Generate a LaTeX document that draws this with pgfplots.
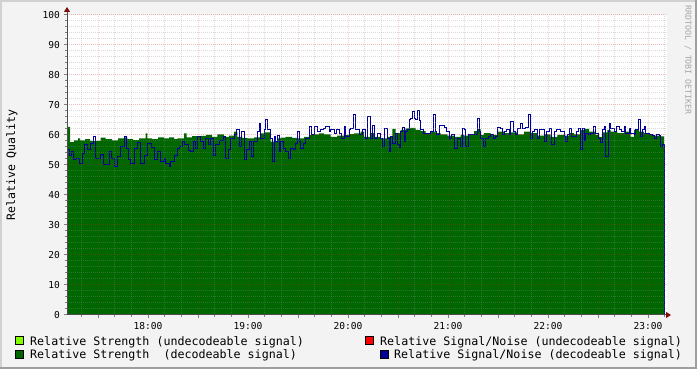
\documentclass[border=0pt]{standalone}
\usepackage{fontspec}
\setmainfont{DejaVu Sans Mono}
\usepackage{pgfplots}
\pgfplotsset{compat=1.18}
\usetikzlibrary{arrows.meta}
\definecolor{bgc}{HTML}{F3F3F3}
\definecolor{dgreen}{HTML}{006600}
\definecolor{lgreen}{HTML}{80FF00}
\definecolor{sblue}{HTML}{000099}
\definecolor{sred}{HTML}{FF0000}
\definecolor{arrowc}{HTML}{7F1010}
\definecolor{mgrid}{HTML}{D02020}
\definecolor{sgrid}{HTML}{8F8F8F}
\begin{document}
\begin{tikzpicture}
\path[use as bounding box] (0,0) rectangle (697bp,369bp);
\fill[bgc] (0,0) rectangle (697bp,369bp);
\fill[black!18] (0,367bp) rectangle (697bp,369bp);
\fill[black!18] (0,0) rectangle (2bp,369bp);
\fill[black!38] (0,0) rectangle (697bp,2bp);
\fill[black!38] (695bp,0) rectangle (697bp,369bp);
\begin{axis}[
  at={(67bp,54bp)}, anchor=south west,
  scale only axis, width=600bp, height=300bp,
  xmin=67, xmax=667, ymin=0, ymax=100,
  axis background/.style={fill=white},
  axis on top,
  axis lines=left,
  axis line style={draw=black!70, line width=1bp},
  x axis line style={-{Triangle[length=5bp,width=6bp,color=arrowc]}, shorten >=-4bp},
  y axis line style={-{Triangle[length=5bp,width=6bp,color=arrowc]}, shorten >=-8bp},
  xtick={98,148,198,248,298,348,398,448,498,548,598,648},
  xticklabels={,18:00,,19:00,,20:00,,21:00,,22:00,,23:00},
  minor xtick={81.33,114.67,131.33,164.67,181.33,214.67,231.33,264.67,281.33,314.67,331.33,364.67,381.33,414.67,431.33,464.67,481.33,514.67,531.33,564.67,581.33,614.67,631.33,664.67},
  ytick={0,10,...,100},
  minor y tick num=4,
  grid=both,
  major grid style={draw=mgrid, opacity=0.3, line width=1bp, dash pattern=on 1bp off 1bp},
  major x grid style={opacity=0.2},
  minor grid style={draw=sgrid, opacity=0.32, line width=1bp, dash pattern=on 1bp off 1bp},
  tick align=outside,
  major tick length=3bp, minor tick length=2bp,
  tick style={line width=1bp, black!50},
  /pgf/number format/assume math mode=true,
  ticklabel style={font=\fontsize{9.6}{10}\selectfont, inner sep=0pt},
  yticklabel style={anchor=east, xshift=-4bp},
  xticklabel style={anchor=north, yshift=-4bp},
  ylabel={Relative Quality},
  every axis y label/.style={at={(axis description cs:-0.0917,0.5)}, rotate=90, anchor=center, font=\fontsize{11.6}{12}\selectfont},
]
\addplot[const plot, fill=dgreen, draw=none] coordinates {
(67,58.9) (68,62.7) (70,57.6) (74,58.2) (78,58.9) (80,58.2) (85,58.6) (90,58.0)
(97.3,58.0) (100.7,59.1) (105.7,58.6) (112,58.2) (118,58.9) (124,59.2) (127.3,58.6)
(133,58.3) (139,58.9) (145.7,60.5) (147.3,58.9) (152,58.6) (158,59.2) (164,58.9)
(169,59.2) (174,58.6) (177.3,58.9) (184,60.5) (186.7,59.2) (192,59.6) (197.3,59.4)
(200.7,59.7) (206,60.0) (212,59.4) (217.3,60.2) (224,59.4) (229,59.8) (234,61.1)
(237.3,59.4) (242,59.0) (247.3,58.9) (254,59.2) (260.7,60.5) (264,60.9) (270.7,57.8)
(277.3,58.9) (280.7,59.1) (285.7,59.4) (292,59.0) (297.3,58.9) (304,59.4) (309,60.0)
(314,60.2) (319,60.5) (324,60.2) (330.7,59.4) (337,59.8) (344,60.0) (349,60.3)
(354,60.5) (360.7,61.1) (364,59.4) (370.7,60.6) (374,59.4) (380.7,58.9) (387.3,59.4)
(392.3,62.0) (395.7,60.6) (400.7,61.7) (405.7,62.2) (410.7,62.4) (415.7,61.7)
(420.7,61.3) (425.7,60.6) (430.7,61.1) (435.7,60.6) (440.7,60.2) (447.3,59.8)
(454,59.4) (460.7,60.0) (464,59.8) (469,60.2) (474,61.3) (477.3,62.0) (480.7,60.0)
(484,60.6) (490.7,60.0) (497.3,61.1) (504,60.6) (510.7,60.9) (517.3,60.2) (524,61.1)
(530.7,60.6) (537.3,59.8) (544,60.2) (550.7,59.4) (557.3,60.0) (564,59.8) (569,60.6)
(574,60.2) (580.7,61.7) (584,62.0) (589,61.1) (595.7,60.0) (599,59.4) (602.3,60.9)
(607.3,61.7) (610.7,61.1) (617.3,60.6) (624,61.1) (630.7,59.4) (634,61.7) (639,61.1)
(644,60.6) (649,60.0) (654,59.8) (660.7,59.5) (664,59.5)
} \closedcycle;
\addplot[const plot, draw=sblue, line width=1bp] coordinates {
(67,55.0) (69,53.3) (71.3,54.4) (73.3,51.7) (75.7,52.2) (79,50.5) (82.3,53.9) (84.7,56.9)
(87.3,55.0) (90.7,57.2) (93.3,59.4) (95.7,52.2) (100.7,53.5) (103.3,50.0) (109,54.4)
(111.3,52.2) (114,49.4) (117.3,52.8) (120.7,56.1) (124,59.4) (126,55.6) (128,51.7)
(130.7,50.5) (134.7,55.6) (137.3,57.6) (140.7,50.5) (144,53.3) (147.3,57.2) (151.3,55.8)
(154,51.7) (157.3,54.4) (160.7,51.1) (164,52.0) (165.7,50.6) (169,49.4) (170.7,51.1)
(174,53.3) (177.3,55.6) (179,56.1) (182.3,57.8) (184.7,56.7) (188,54.7) (190.7,54.4)
(193.3,57.8) (195.7,55.6) (197.3,59.4) (200,57.8) (203.3,55.6) (205.7,58.9) (208,56.7)
(210.7,58.9) (213.3,53.3) (215.7,56.9) (219,58.3) (223.3,59.4) (225.7,52.2) (228,55.0)
(230.7,58.9) (234,60.0) (236.7,61.7) (239,56.1) (241.3,61.3) (244,51.7) (246,55.0)
(249,57.8) (251.3,52.8) (253.3,57.8) (257.3,61.1) (259,63.9) (260.7,58.9) (264,61.7)
(265.7,65.0) (267.3,61.7) (270.7,58.9) (272.3,51.1) (274,59.4) (275.7,57.8) (277.3,59.8)
(279,54.4) (280.7,57.8) (283.3,55.6) (285.7,54.4) (288,52.2) (290.7,55.6) (293.3,55.0)
(295.7,57.2) (297.3,61.1) (299,57.8) (300.7,55.6) (303.3,57.2) (305.7,58.9) (309,62.8)
(311.3,60.0) (314,62.8) (317.3,61.1) (320.7,61.7) (323.3,62.2) (325.7,62.8) (329,61.1)
(330.7,61.7) (334,60.6) (336.7,61.7) (339.3,60.6) (341.3,58.9) (344,62.8) (345.7,59.4)
(349,61.7) (350.7,62.2) (353.3,66.7) (355.7,61.7) (359,60.0) (362.3,61.7) (365.7,58.9)
(367.3,66.1) (370,58.9) (372.3,63.3) (374.7,58.9) (377.3,60.6) (380,58.9) (382.3,56.1)
(384.7,62.0) (387.3,58.9) (389,54.4) (390.7,59.4) (392.3,57.2) (395.7,60.6) (397.3,56.7)
(399,55.8) (400.7,61.1) (402.3,62.4) (404,57.8) (405.7,61.1) (407.3,61.7) (409,65.0)
(410.7,65.6) (412.3,67.8) (414,65.6) (415.7,65.0) (417.3,68.3) (419,64.7) (420.7,61.7)
(423.3,60.6) (430.7,61.1) (433.3,66.7) (435,61.1) (436.7,60.0) (439,63.3) (440.7,63.1)
(444,62.4) (446.7,61.3) (449,58.9) (451.3,60.0) (454,55.6) (457.3,58.9) (460.7,56.1)
(462.3,62.2) (464,61.7) (465.7,56.1) (468,60.0) (477.3,65.6) (479,61.1) (480.7,58.9)
(483.3,56.1) (485.7,58.9) (488,59.4) (490.7,60.0) (493.3,58.9) (495.7,59.4) (497.3,62.4)
(500,62.0) (502.3,60.0) (504,61.1) (506.7,61.7) (509,60.0) (510.7,64.4) (513.3,61.1)
(515.7,60.0) (517.3,62.2) (520,63.9) (522.3,62.0) (525.7,62.4) (528,66.9) (530,58.9)
(532.3,61.1) (534.7,61.7) (537.3,58.9) (539,61.7) (544,57.8) (546.7,61.1) (549,62.2)
(551.3,56.9) (554,61.1) (556.7,61.7) (560.7,61.1) (564,59.4) (565.7,57.8) (567.3,60.0)
(569,62.2) (571.3,59.4) (576.7,61.1) (578,62.0) (580.7,55.0) (582.3,62.0) (584,58.3)
(585.7,60.6) (588,60.2) (590.7,60.6) (593.3,62.8) (595.7,60.6) (598,58.9) (600,57.6)
(602.3,61.7) (604,62.8) (605.7,52.8) (608,61.1) (609,63.9) (610.7,62.2) (614,61.1)
(616.7,62.8) (619,61.7) (621.3,61.1) (624,62.8) (625.7,60.6) (629,62.2) (630.7,60.6)
(634,60.0) (635.7,61.7) (638,65.0) (640,59.4) (642.3,61.7) (644,62.8) (645.7,60.6)
(649,60.2) (652.3,59.8) (654.7,58.9) (656.7,60.0) (659,59.8) (660.7,56.1) (662.3,56.7)
(664,0)
};
\end{axis}
\node[rotate=-90, font=\fontsize{8.3}{9}\selectfont, text=black!35] at (688bp,309bp) {RRDTOOL / TOBI OETIKER};
\begin{scope}[font=\fontsize{11.7}{12}\selectfont]
\filldraw[fill=lgreen, draw=black, line width=0.8bp] (15bp,24.3bp) rectangle (23bp,32.3bp);
\node[anchor=base west, inner sep=0pt] at (30bp,24bp) {Relative Strength (undecodeable signal)};
\filldraw[fill=dgreen, draw=black, line width=0.8bp] (15bp,10.7bp) rectangle (23bp,18.7bp);
\node[anchor=base west, inner sep=0pt] at (30bp,10.7bp) {Relative Strength~ (decodeable signal)};
\filldraw[fill=sred, draw=black, line width=0.8bp] (365.5bp,24.3bp) rectangle (373.5bp,32.3bp);
\node[anchor=base west, inner sep=0pt] at (380bp,24bp) {Relative Signal/Noise (undecodeable signal)};
\filldraw[fill=sblue, draw=black, line width=0.8bp] (380bp,10.7bp) rectangle (388bp,18.7bp);
\node[anchor=base west, inner sep=0pt] at (394bp,10.7bp) {Relative Signal/Noise (decodeable signal)};
\end{scope}
\end{tikzpicture}
\end{document}
